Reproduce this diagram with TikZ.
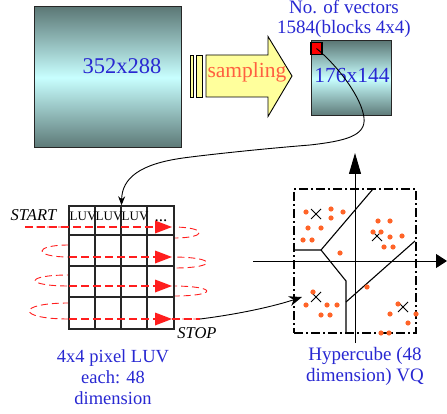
\documentclass[tikz,border=0pt]{standalone}
\usepackage{fontspec}
\setmainfont{Liberation Serif}
\usetikzlibrary{arrows.meta}
\definecolor{txtblue}{RGB}{40,40,210}
\definecolor{samporange}{RGB}{255,96,64}
\definecolor{dotorange}{RGB}{255,100,40}
\definecolor{slategr}{RGB}{92,120,118}
\definecolor{lightcyan}{RGB}{200,255,255}
\definecolor{arrowyellow}{RGB}{255,255,156}
\definecolor{scanred}{RGB}{255,30,30}
\newcommand{\myfs}[1]{\fontsize{#1}{#1}\selectfont}
\begin{document}
\begin{tikzpicture}[x=1pt,y=-1pt,
  imgbox/.style={draw=black!85, line width=1pt, top color=slategr, bottom color=slategr, middle color=lightcyan, inner sep=0pt},
  bluetext/.style={text=txtblue, inner sep=0pt, anchor=base},
  conn/.style={draw=black, line width=0.9pt},
  scan/.style={draw=scanred, line width=0.9pt, dash pattern=on 7pt off 4pt},
  scanfwd/.style={draw=scanred, line width=1.6pt, dash pattern=on 8pt off 4pt},
  gridline/.style={draw=black!85, line width=1.2pt},
  region/.style={draw=black, line width=1.1pt},
  axisline/.style={draw=black, line width=1pt},
  dotmark/.style={fill=dotorange, draw=none},
  crossmark/.style={draw=black, line width=0.9pt},
  scanlabel/.style={inner sep=0pt, anchor=base, font=\myfs{16.5}\itshape},
  yellowpart/.style={fill=arrowyellow, draw=black, line width=0.9pt, line join=miter},
]
\useasboundingbox (0,0) rectangle (447,414);

% big picture
\node[imgbox, minimum width=147pt, minimum height=141pt] (big) at (107.5,77.5) {};
\node[bluetext, font=\myfs{22.5}] (bigtxt) at (122,74) {352x288};

% sampling arrow
\draw[yellowpart] (190,55) rectangle (193.5,97);
\draw[yellowpart] (196,55) rectangle (202.5,97);
\draw[yellowpart] (206,55) -- (268,55) -- (268,36.5) -- (292,76) -- (268,116.5) -- (268,97) -- (206,97) -- cycle;
\node[inner sep=0pt, anchor=base, text=samporange, font=\myfs{21.5}] (samptxt) at (247,78) {sampling};

% small picture
\node[imgbox, minimum width=80pt, minimum height=75pt] (small) at (351,78.5) {};
\node[bluetext, font=\myfs{21.5}] (smalltxt) at (352,83) {176x144};
\node[draw=black, line width=1.5pt, fill=red, minimum width=11pt, minimum height=12pt, inner sep=0pt] (redsq) at (316.5,48.5) {};
\node[bluetext, font=\myfs{19}] (title1) at (344,14) {No. of vectors};
\node[bluetext, font=\myfs{19}] (title2) at (344,34) {1584(blocks 4x4)};

% scan loops (under the grid)
\draw[scan] (25,227) -- (172,227) .. controls (208,227) and (208,238) .. (174,238) -- (69,245)
  .. controls (33,245) and (33,257) .. (69,257) -- (172,257)
  .. controls (218,257) and (218,268) .. (174,268) -- (69,275)
  .. controls (24,275) and (24,286) .. (69,286) -- (172,286)
  .. controls (218,286) and (218,296) .. (174,296) -- (69,303)
  .. controls (16,303) and (16,319) .. (69,319) -- (200,319);

% grid
\node[draw=black!85, line width=1.4pt, fill=white, minimum width=105pt, minimum height=123pt, inner sep=0pt] (grid) at (121.5,267.5) {};
\foreach \gx in {95,121,147} \draw[gridline] (\gx,206) -- (\gx,329);
\foreach \gy in {235,266,297} \draw[gridline] (69,\gy) -- (174,\gy);
\node[inner sep=0pt, anchor=base west, font=\myfs{13}] (luv1) at (69.5,221) {LUV};
\node[inner sep=0pt, anchor=base west, font=\myfs{13}] (luv2) at (95.5,221) {LUV};
\node[inner sep=0pt, anchor=base west, font=\myfs{13}] (luv3) at (121.5,221) {LUV};
\node[inner sep=0pt, anchor=base west, font=\myfs{17}] (luvdots) at (154.5,221.5) {...};

% forward scan lines with heads
\draw[scanfwd] (25,227) -- (160,227);
\draw[scanfwd] (69,257) -- (160,257);
\draw[scanfwd] (69,286) -- (160,286);
\draw[scanfwd] (69,319) -- (160,319);
\draw[scanfwd] (172,319) -- (200,319);
\foreach \ry in {227,257,286,319}
  \fill[scanred] (155,{\ry-6.5}) -- (172,\ry) -- (155,{\ry+6.5}) -- cycle;
\node[scanlabel] (start) at (33.5,221) {START};
\node[scanlabel] (stop) at (197,338) {STOP};

% connector from red block to grid
\draw[conn, -{Stealth[length=9pt,width=7pt]}] (redsq.center)
  .. controls (338,66) and (362,98) .. (364,118)
  .. controls (366,136) and (345,141) .. (310,145)
  .. controls (260,149) and (205,155) .. (183,158)
  .. controls (140,164) and (122,178) .. (grid.north);

% hypercube
\node[draw=black, line width=1.6pt, dash pattern=on 9pt off 3pt on 2pt off 3pt, minimum width=122pt, minimum height=144pt, inner sep=0pt] (hc) at (355,261) {};
\coordinate (vbot) at (355,343);
\coordinate (vtop) at (355,153);
\coordinate (hleft) at (253,261);
\coordinate (hright) at (447,261);
\draw[axisline, -{Triangle[length=21pt,width=12pt]}] (vbot) -- (vtop);
\draw[axisline, -{Triangle[length=11pt,width=14pt]}] (hleft) -- (hright);

% voronoi boundaries
\draw[region] (294,250) -- (321,250) -- (373,189);
\draw[region] (321,250) -- (346,281) -- (346,333);
\draw[region] (346,302) -- (415,241);

% crosses
\foreach \cx/\cy in {316/214, 377/236, 316/297, 403/307}
  \draw[crossmark] (\cx-5,\cy-5) -- (\cx+5,\cy+5) (\cx-5,\cy+5) -- (\cx+5,\cy-5);

% dots
\foreach \dx/\dy in {306/212, 331/209, 343/212, 331/218, 308/228, 321/228, 303/240, 312/240, 340/253,
  378/221, 390/221, 373/232, 381/232, 390/237, 402/236, 384/247, 393/247,
  367/287,
  313/292, 306/305, 327/305, 337/305, 321/315, 330/315,
  398/304, 390/314, 416/314, 408/323, 381/333, 389/333}
  \fill[dotmark] (\dx,\dy) circle (2.6pt);

% connector from scan end to hypercube
\coordinate (stopend) at (200,319);
\coordinate (hcin) at (302,297);
\draw[conn, -{Stealth[length=13pt,width=10pt]}] (stopend) .. controls (240,314) and (275,306) .. (hcin);

% labels
\node[bluetext, font=\myfs{18.5}] (lab1) at (113,362) {4x4 pixel LUV};
\node[bluetext, font=\myfs{18.5}] (lab2) at (113,383.5) {each: 48};
\node[bluetext, font=\myfs{18.5}] (lab3) at (113,404.5) {dimension};
\node[bluetext, font=\myfs{19}] (lab4) at (365,360) {Hypercube (48};
\node[bluetext, font=\myfs{19}] (lab5) at (365,381.5) {dimension) VQ};
\end{tikzpicture}
\end{document}
